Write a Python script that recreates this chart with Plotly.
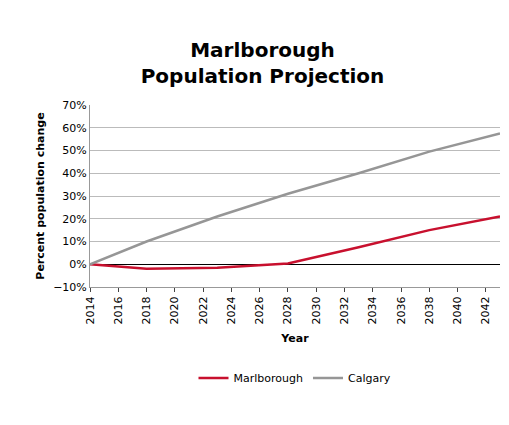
import plotly.graph_objects as go

years = [2014, 2018, 2023, 2028, 2033, 2038, 2043]
marlborough = [0, -2.0, -1.5, 0.3, 7.5, 15.0, 21.0]
calgary = [0, 10.0, 21.0, 31.0, 40.0, 49.5, 57.5]

fig = go.Figure()
fig.add_trace(go.Scatter(x=years, y=marlborough, name="Marlborough", mode="lines",
                         line=dict(color="#c8102e", width=2.5)))
fig.add_trace(go.Scatter(x=years, y=calgary, name="Calgary", mode="lines",
                         line=dict(color="#969696", width=2.5)))
fig.update_layout(
    width=509, height=425, template="plotly_white",
    font=dict(family="DejaVu Sans", size=11, color="black"),
    title=dict(text="<b>Marlborough<br>Population Projection</b>", x=0.5, y=0.885,
               xanchor="center", yanchor="middle", font=dict(size=20, color="black")),
    margin=dict(l=82, r=17, t=97, b=146),
    legend=dict(orientation="h", x=0.5, xanchor="center", y=-0.42, font=dict(size=11)),
    plot_bgcolor="white",
)
fig.update_xaxes(range=[2014, 2043], tickmode="array", tickvals=list(range(2014, 2044, 2)),
                 tickangle=-90, showgrid=False, ticks="outside", ticklen=4,
                 showline=True, linecolor="#999",
                 title=dict(text="<b>Year</b>", font=dict(size=11), standoff=10))
fig.update_yaxes(range=[-10, 70], dtick=10, ticksuffix="%", showgrid=True, gridcolor="#bbb",
                 zeroline=True, zerolinecolor="black", zerolinewidth=1.2,
                 showline=True, linecolor="#999",
                 title=dict(text="<b>Percent population change</b>", font=dict(size=11), standoff=6))
fig.write_html("out.html")
